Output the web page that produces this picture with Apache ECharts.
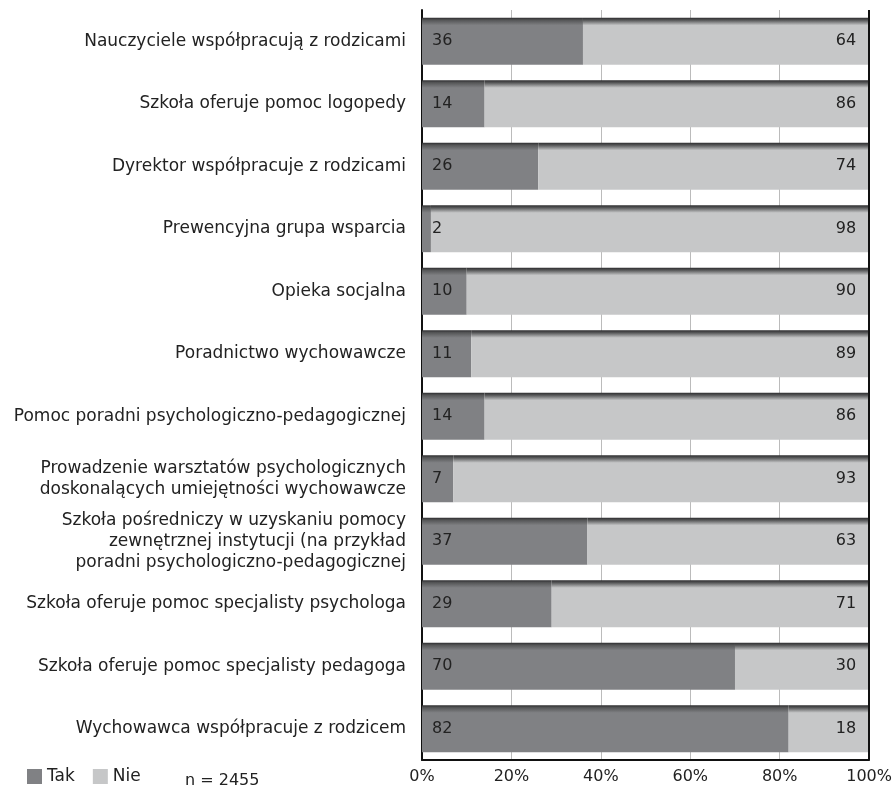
<!DOCTYPE html>
<html>
<head>
<meta charset="utf-8">
<script src="https://cdn.jsdelivr.net/npm/echarts@6/dist/echarts.min.js"></script>
<style>html,body{margin:0;padding:0;background:#fff}#c{width:895px;height:791px}</style>
</head>
<body>
<div id="c"></div>
<script>
const categories = [
  "Nauczyciele współpracują z rodzicami",
  "Szkoła oferuje pomoc logopedy",
  "Dyrektor współpracuje z rodzicami",
  "Prewencyjna grupa wsparcia",
  "Opieka socjalna",
  "Poradnictwo wychowawcze",
  "Pomoc poradni psychologiczno-pedagogicznej",
  "Prowadzenie warsztatów psychologicznych\ndoskonalących umiejętności wychowawcze",
  "Szkoła pośredniczy w uzyskaniu pomocy\nzewnętrznej instytucji (na przykład\nporadni psychologiczno-pedagogicznej",
  "Szkoła oferuje pomoc specjalisty psychologa",
  "Szkoła oferuje pomoc specjalisty pedagoga",
  "Wychowawca współpracuje z rodzicem"
];
const tak = [36, 14, 26, 2, 10, 11, 14, 7, 37, 29, 70, 82];
const nie = [64, 86, 74, 98, 90, 89, 86, 93, 63, 71, 30, 18];
const xTicks = [0, 20, 40, 60, 80, 100];
const sampleNote = "n = 2455";

const FONT = "DejaVu Sans";
function grad(base) {
  return new echarts.graphic.LinearGradient(0, 0, 0, 1, [
    {offset: 0, color: '#2e2e30'},
    {offset: 0.05, color: '#555657'},
    {offset: 0.16, color: base},
    {offset: 1, color: base}
  ]);
}
const chart = echarts.init(document.getElementById('c'), null, {renderer: 'canvas'});
chart.setOption({
  animation: false,
  textStyle: {fontFamily: FONT},
  grid: {left: 422, right: 23, top: 10, bottom: 31, containLabel: false},
  legend: {
    left: 22, bottom: 1, itemWidth: 15, itemHeight: 15, itemGap: 18,
    icon: 'rect',
    textStyle: {fontFamily: FONT, fontSize: 17, color: '#222'},
    data: [{name: 'Tak', itemStyle: {color: '#808184'}}, {name: 'Nie', itemStyle: {color: '#c6c7c8'}}]
  },
  graphic: [{
    type: 'text', left: 185, bottom: 2,
    style: {text: sampleNote, fontFamily: FONT, fontSize: 16, fill: '#222'}
  }],
  xAxis: {
    type: 'value', min: 0, max: 100, interval: 20,
    axisLine: {show: true, lineStyle: {color: '#111', width: 2}},
    axisTick: {show: false},
    splitLine: {show: true, lineStyle: {color: '#bbb', width: 1}},
    axisLabel: {formatter: v => xTicks.includes(v) ? v + '%' : '', fontSize: 16, color: '#222', margin: 9, fontFamily: FONT}
  },
  yAxis: {
    type: 'category', data: categories, inverse: true,
    axisLine: {show: true, lineStyle: {color: '#111', width: 2}},
    axisTick: {show: false},
    axisLabel: {fontSize: 17, color: '#222', margin: 16, lineHeight: 21, align: 'right', fontFamily: FONT}
  },
  series: [
    {
      name: 'Tak', type: 'bar', stack: 's', data: tak, barWidth: '75%',
      itemStyle: {color: grad('#808184')},
      label: {show: true, position: 'insideLeft', distance: 10, fontSize: 16, color: '#222', fontFamily: FONT}
    },
    {
      name: 'Nie', type: 'bar', stack: 's', data: nie, barWidth: '75%',
      itemStyle: {color: grad('#c6c7c8')},
      label: {show: true, position: 'insideRight', distance: 13, fontSize: 16, color: '#222', fontFamily: FONT}
    },
    {
      type: 'line', data: [], markLine: {
        silent: true, symbol: 'none', label: {show: false},
        lineStyle: {color: '#111', width: 2, type: 'solid'},
        data: [{xAxis: 100}]
      }
    }
  ]
});
</script>
</body>
</html>
